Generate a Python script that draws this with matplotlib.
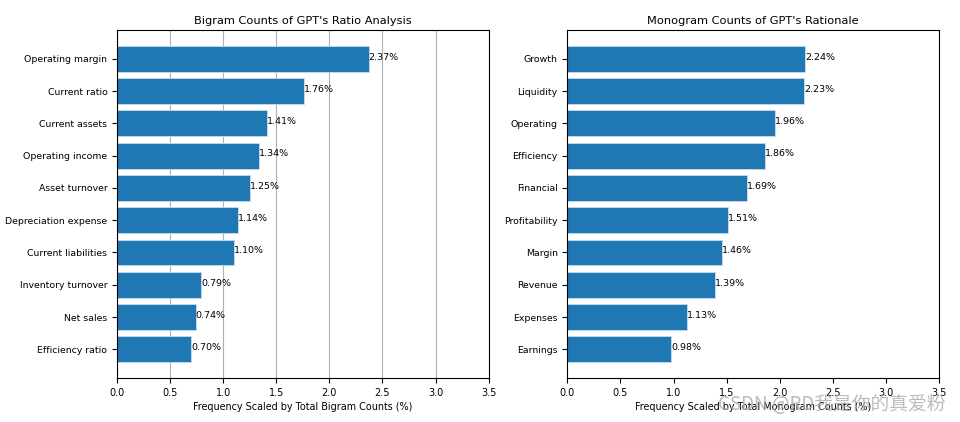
import matplotlib
matplotlib.use("Agg")
import matplotlib.pyplot as plt

bigram_labels = ["Operating margin", "Current ratio", "Current assets", "Operating income",
                 "Asset turnover", "Depreciation expense", "Current liabilities",
                 "Inventory turnover", "Net sales", "Efficiency ratio"]
bigram_values = [2.37, 1.76, 1.41, 1.34, 1.25, 1.14, 1.10, 0.79, 0.74, 0.70]

monogram_labels = ["Growth", "Liquidity", "Operating", "Efficiency", "Financial",
                   "Profitability", "Margin", "Revenue", "Expenses", "Earnings"]
monogram_values = [2.24, 2.23, 1.96, 1.86, 1.69, 1.51, 1.46, 1.39, 1.13, 0.98]

fig = plt.figure(figsize=(9.6, 4.22), dpi=100)
ax1 = fig.add_axes([0.122, 0.104, 0.387, 0.825])
ax2 = fig.add_axes([0.591, 0.104, 0.387, 0.825])


def draw(ax, labels, values, title, xlabel, grid):
    ypos = list(range(len(labels)))[::-1]
    bars = ax.barh(ypos, values, color="#1f77b4", edgecolor="#c9dcec", linewidth=0.6, height=0.8)
    for b, v in zip(bars, values):
        ax.text(b.get_width(), b.get_y() + b.get_height() / 2 + 0.05, f"{v:.2f}%",
                ha="left", va="center", fontsize=6.8)
    ax.set_yticks(ypos)
    ax.set_yticklabels(labels, fontsize=6.75)
    ax.set_xlim(0, 3.5)
    ax.set_xticks([0, 0.5, 1.0, 1.5, 2.0, 2.5, 3.0, 3.5])
    ax.tick_params(axis="x", labelsize=7)
    ax.set_title(title, fontsize=8.2, pad=4)
    ax.set_xlabel(xlabel, fontsize=6.9, labelpad=3)
    if grid:
        ax.grid(axis="x", color="#b0b0b0", linewidth=0.8)
        ax.set_axisbelow(True)


draw(ax1, bigram_labels, bigram_values, "Bigram Counts of GPT's Ratio Analysis",
     "Frequency Scaled by Total Bigram Counts (%)", True)
draw(ax2, monogram_labels, monogram_values, "Monogram Counts of GPT's Rationale",
     "Frequency Scaled by Total Monogram Counts (%)", False)

fig.text(0.985, 0.042, "CSDN @RD我是你的真爱粉", ha="right", va="center", fontsize=13.5,
         color="#aaaaaa", alpha=0.8, family=["Noto Sans CJK SC", "DejaVu Sans"])

fig.savefig("out.png", dpi=100)
